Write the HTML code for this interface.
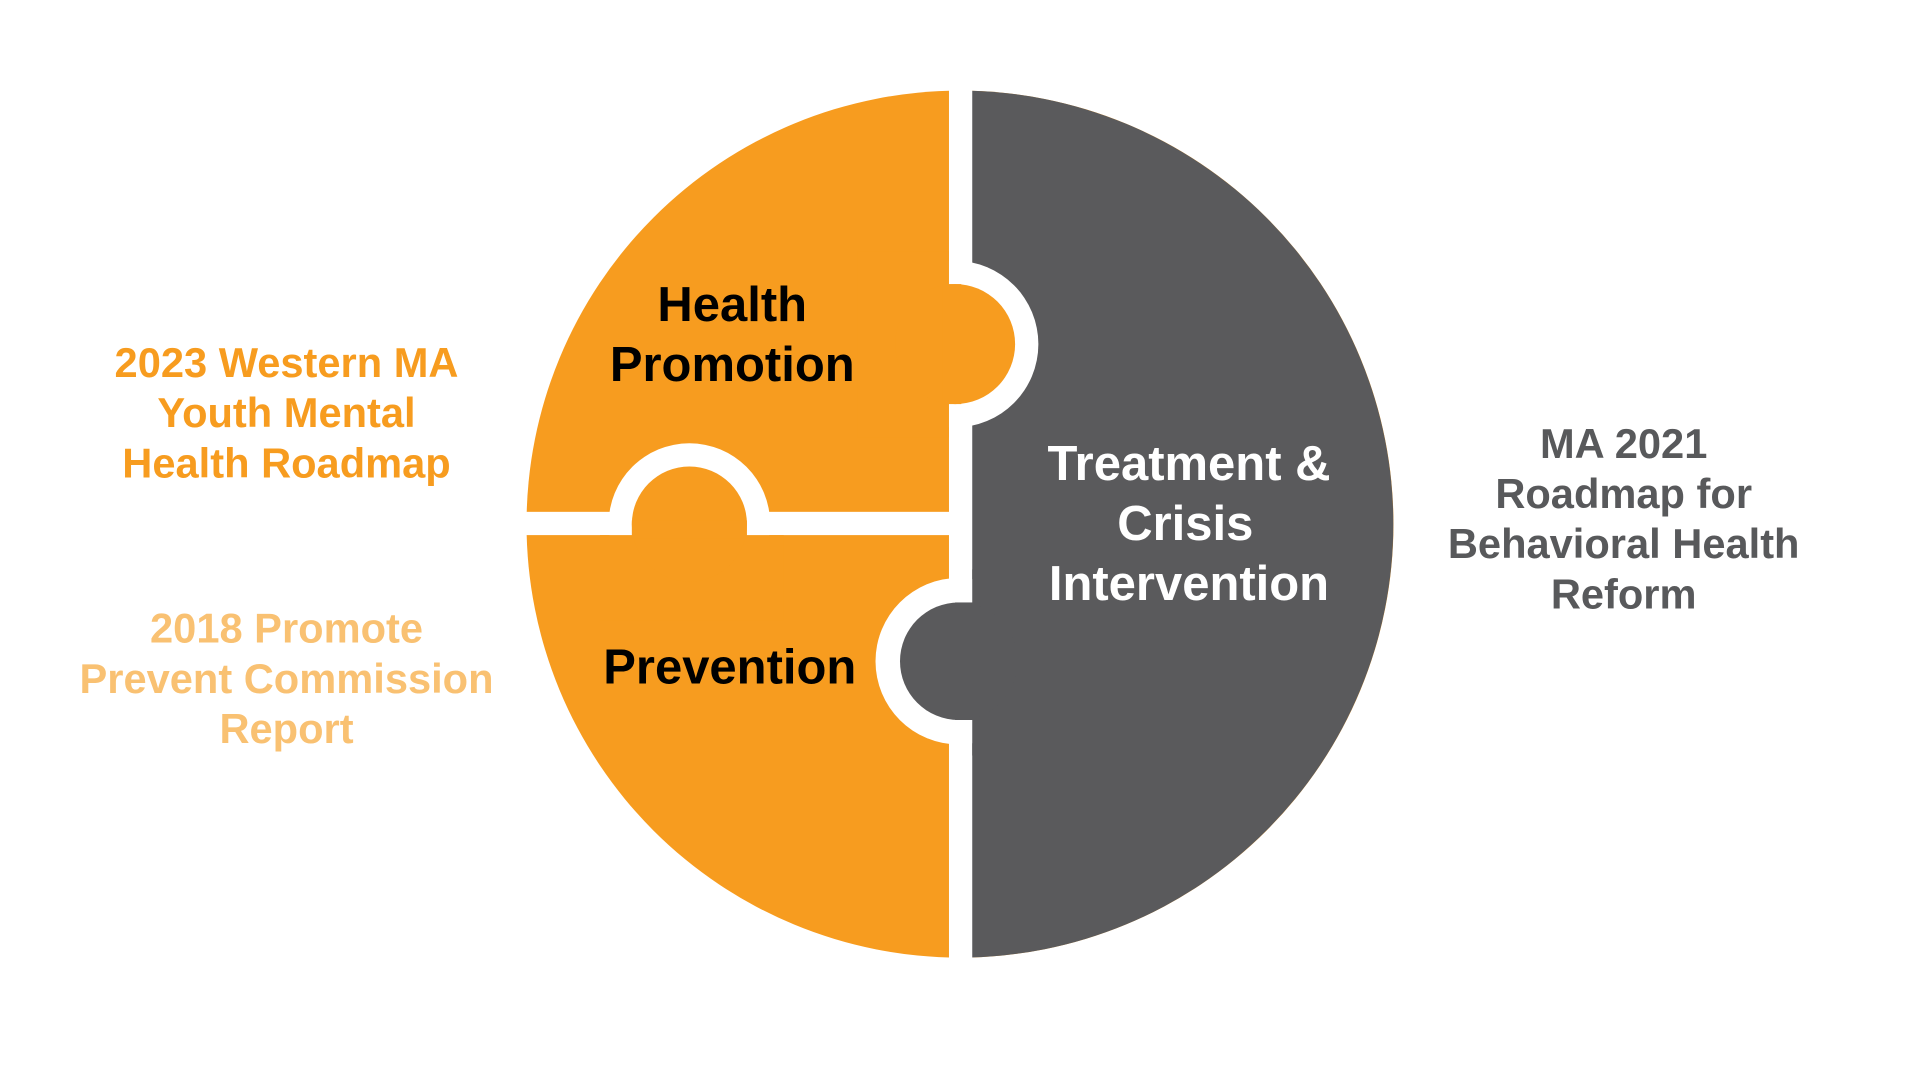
<!DOCTYPE html>
<html><head><meta charset="utf-8"><style>
html,body{margin:0;padding:0;background:#fff;width:1920px;height:1080px;overflow:hidden}
svg{display:block}
text{font-family:"Liberation Sans",sans-serif;font-weight:bold;text-anchor:middle;dominant-baseline:central}
</style></head><body>
<svg width="1920" height="1080" viewBox="0 0 1568 882" preserveAspectRatio="none">
<rect width="1568" height="882" fill="#fff"/>
<circle cx="784" cy="428" r="354" fill="#F79C1F"/>
<path d="M784 74 A354 354 0 0 1 784 782 Z" fill="#5A5A5C"/>
<!-- vertical gap -->
<rect x="775" y="60" width="19" height="740" fill="#fff"/>
<!-- horizontal gap -->
<rect x="420" y="418" width="360" height="19" fill="#fff"/>
<!-- top knob (orange into gray) -->
<circle cx="780" cy="281" r="68" fill="#fff"/>
<rect x="700" y="205" width="75" height="152" fill="#F79C1F"/>
<circle cx="780" cy="281" r="49" fill="#F79C1F"/>
<rect x="770" y="232" width="15" height="98" fill="#F79C1F"/>
<!-- bottom knob (gray into orange) -->
<circle cx="783" cy="540" r="68" fill="#fff"/>
<rect x="794" y="465" width="70" height="152" fill="#5A5A5C"/>
<circle cx="783" cy="540" r="48" fill="#5A5A5C"/>
<rect x="780" y="492" width="20" height="96" fill="#5A5A5C"/>
<!-- left knob (bottom piece into top) -->
<circle cx="563" cy="428" r="66" fill="#fff"/>
<rect x="490" y="437" width="150" height="70" fill="#F79C1F"/>
<circle cx="563" cy="428" r="47" fill="#F79C1F"/>
<rect x="516" y="425" width="94" height="15" fill="#F79C1F"/>
<text x="598" y="249" font-size="40" fill="#000">Health</text>
<text x="598" y="298" font-size="40" fill="#000">Promotion</text>
<text x="596" y="545" font-size="40" fill="#000">Prevention</text>
<text x="971" y="379" font-size="40" fill="#fff">Treatment &amp;</text>
<text x="968" y="428" font-size="40" fill="#fff">Crisis</text>
<text x="971" y="477" font-size="40" fill="#fff">Intervention</text>
<g font-size="34" fill="#F79C1F">
<text x="234" y="296">2023 Western MA</text>
<text x="234" y="337">Youth Mental</text>
<text x="234" y="378">Health Roadmap</text>
</g>
<g font-size="34" fill="#F9C172">
<text x="234" y="513">2018 Promote</text>
<text x="234" y="554">Prevent Commission</text>
<text x="234" y="595">Report</text>
</g>
<g font-size="34" fill="#58595B">
<text x="1326" y="362">MA 2021</text>
<text x="1326" y="403">Roadmap for</text>
<text x="1326" y="444">Behavioral Health</text>
<text x="1326" y="485">Reform</text>
</g>
</svg>
</body></html>
